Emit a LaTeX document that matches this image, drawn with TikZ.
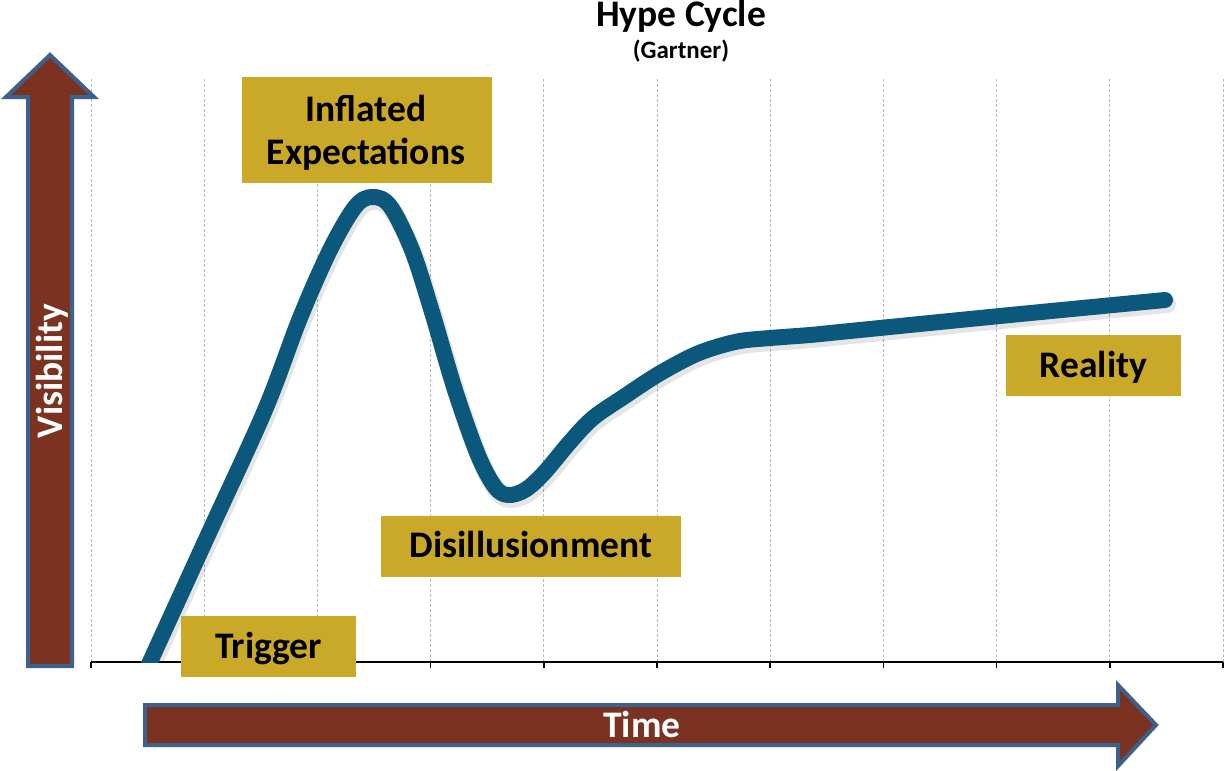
\documentclass[tikz,border=0pt]{standalone}
\usepackage{fontspec}
\setmainfont{Carlito}
\definecolor{gold}{RGB}{201,169,39}
\definecolor{brown}{RGB}{124,50,33}
\definecolor{bordblue}{RGB}{62,96,140}
\definecolor{curveblue}{RGB}{12,88,124}
\definecolor{gridgray}{RGB}{185,185,185}
\tikzset{
  gbox/.style={fill=gold, draw=none, inner sep=0pt, minimum width=#1},
  boxtext/.style={inner sep=0pt, anchor=base, font=\fontsize{37.5}{44}\selectfont\bfseries, text=black},
  arrowtext/.style={inner sep=0pt, anchor=base, font=\fontsize{37.5}{44}\selectfont\bfseries, text=white},
  gridline/.style={draw=gridgray, line width=0.8pt, dash pattern=on 3pt off 2pt},
  bigarrow/.style={fill=brown, draw=bordblue, line width=4pt, line join=miter},
  hype/.style={draw=curveblue, line width=16pt, line cap=round, line join=round},
}
\begin{document}
\begin{tikzpicture}[x=1pt,y=-1pt]
\useasboundingbox (0,0) rectangle (1224,771);
% title
\node[inner sep=0pt, anchor=base, font=\fontsize{37.5}{44}\selectfont\bfseries] (title) at (681,27) {Hype Cycle};
\node[inner sep=0pt, anchor=base, font=\fontsize{25}{29}\selectfont\bfseries] (subtitle) at (681,58) {(Gartner)};
% grid
\foreach \k in {0,...,10} {
  \coordinate (gt\k) at ({91+113.2*\k},79);
  \coordinate (gb\k) at ({91+113.2*\k},662);
  \coordinate (tk\k) at ({91+113.2*\k},668);
  \draw[gridline] (gt\k) -- (gb\k);
  \draw[black, line width=1.5pt] (gb\k) -- (tk\k);
}
\draw[black, line width=1.5pt] (gb0) -- (gb10);
% curve
\begin{scope}
\clip (0,0) rectangle (1224,662);
\draw[black, opacity=0.10, line width=18pt, line cap=round, line join=round, shift={(2,4)}]
  plot[smooth, tension=0.55] coordinates {(146,672) (150,662) (208,535) (265,410) (300,318) (330,250) (355,207) (372,197) (390,206) (412,250) (432,312) (455,390) (478,455) (495,487) (508,495) (525,490) (544,473) (570,442) (593,418) (625,396) (657,375) (690,357) (713,348) (740,341) (770,338) (810,335) (840,332) (1000,316) (1165,300)};
\draw[hype]
  plot[smooth, tension=0.55] coordinates {(146,672) (150,662) (208,535) (265,410) (300,318) (330,250) (355,207) (372,197) (390,206) (412,250) (432,312) (455,390) (478,455) (495,487) (508,495) (525,490) (544,473) (570,442) (593,418) (625,396) (657,375) (690,357) (713,348) (740,341) (770,338) (810,335) (840,332) (1000,316) (1165,300)};
\end{scope}
% boxes
\node[gbox=250, minimum height=106] (inflbox) at (367,130) {};
\node[boxtext] (infl1) at (366,121) {Inflated};
\node[boxtext] (infl2) at (366,164) {Expectations};
\node[gbox=175, minimum height=61] (trigbox) at (268.5,646.5) {};
\node[boxtext] (trig) at (268.5,658) {Trigger};
\node[gbox=300, minimum height=61] (disbox) at (531,546.5) {};
\node[boxtext] (dis) at (531,557) {Disillusionment};
\node[gbox=175, minimum height=61] (realbox) at (1093.5,365.5) {};
\node[boxtext] (real) at (1093.5,377) {Reality};
% arrows
\draw[bigarrow] (28,666) -- (28,97) -- (6,97) -- (50,55) -- (94,97) -- (72,97) -- (72,666) -- cycle;
\draw[bigarrow] (145,705) -- (1118,705) -- (1118,685) -- (1156,725) -- (1118,766) -- (1118,745) -- (145,745) -- cycle;
\node[arrowtext, rotate=90] (vis) at (62,371) {Visibility};
\node[arrowtext] (time) at (642,737) {Time};
\end{tikzpicture}
\end{document}
